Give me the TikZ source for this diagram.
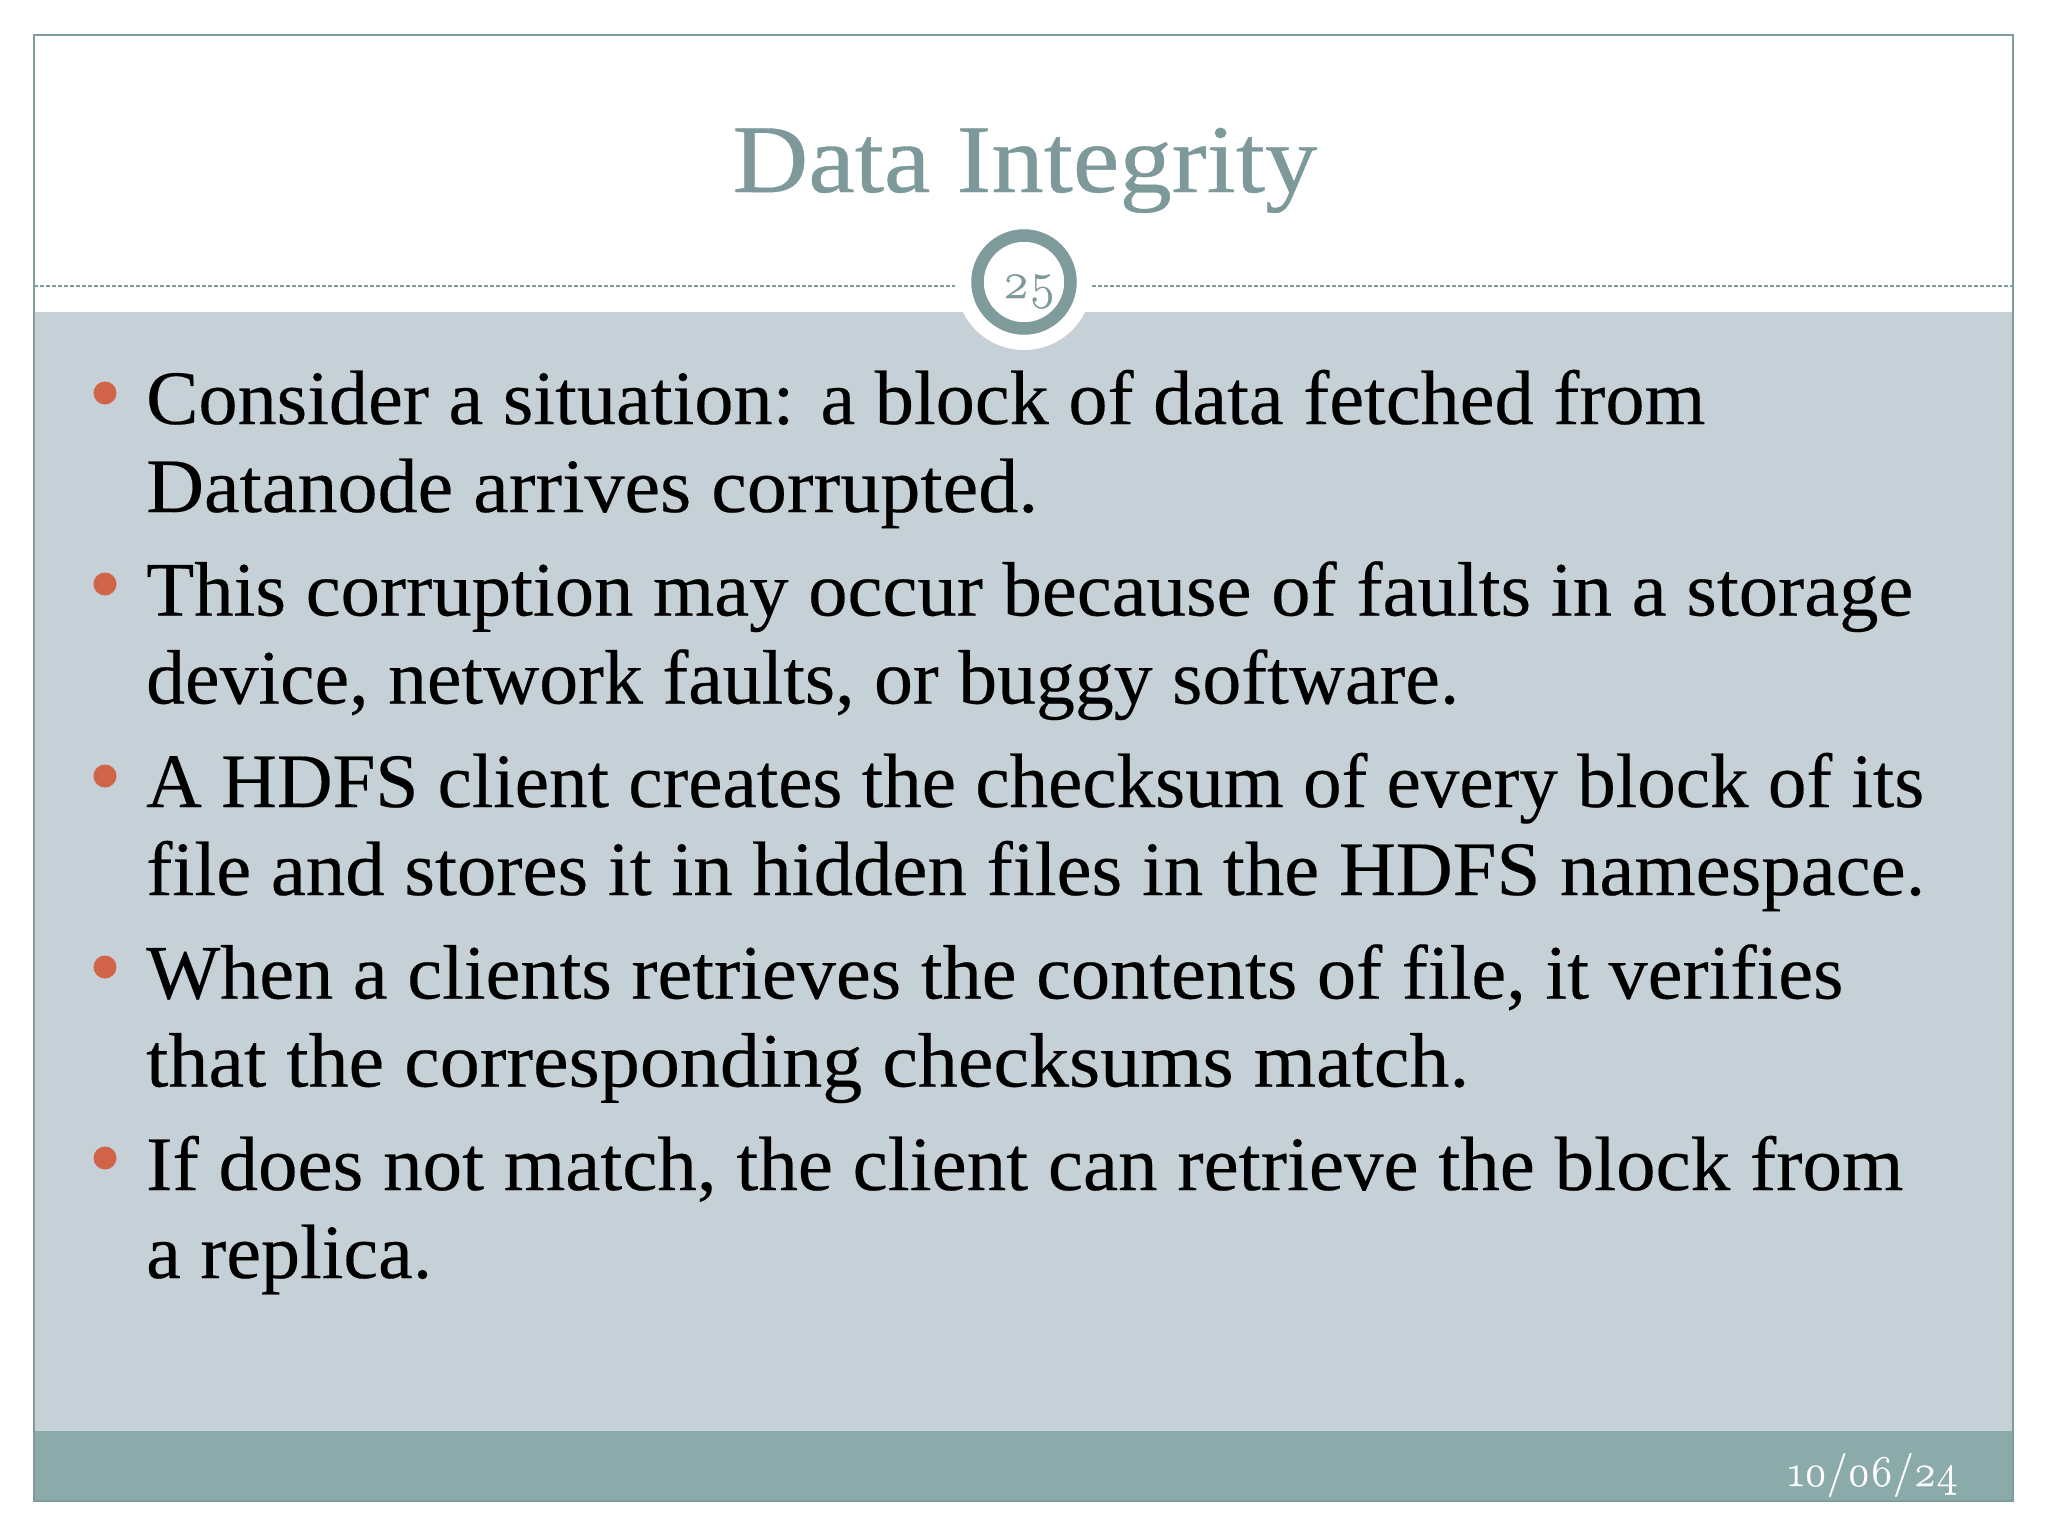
\documentclass[tikz,border=0pt]{standalone}
\usepackage{fontspec}
\setmainfont{Liberation Serif}[FakeStretch=1.015,FakeBold=0.25]
\newfontfamily\titlefont{Liberation Serif}[FakeStretch=1.08,FakeBold=0.4]
\newfontfamily\numfont{Latin Modern Roman}[Numbers=OldStyle,FakeBold=0.7]
\usetikzlibrary{positioning}
\definecolor{framecol}{RGB}{127,155,155}
\definecolor{titlecol}{RGB}{126,153,153}
\definecolor{bodycol}{RGB}{197,209,215}
\definecolor{footcol}{RGB}{139,170,170}
\definecolor{bulletcol}{RGB}{209,99,73}
\newcommand{\fitline}[2]{\resizebox{#1pt}{\height}{#2}}
\tikzset{
  itemtext/.style={anchor=base west, align=left, inner sep=0pt, text=black,
    font=\fontsize{77}{88}\selectfont},
  bulletdot/.style={circle, fill=bulletcol, inner sep=0pt, minimum size=23pt},
}
\begin{document}
\begin{tikzpicture}[x=1pt,y=-1pt]
\useasboundingbox (0,0) rectangle (2048,1536);
\fill[white] (0,0) rectangle (2048,1536);
\fill[bodycol] (34,312) rectangle (2013,1431);
\fill[footcol] (34,1431) rectangle (2013,1501);
\fill[white] (1024,282) circle (68);
\draw[framecol, line width=1.5pt] (34,35) rectangle (2013,1501);
\draw[framecol, line width=1.2pt, dash pattern=on 4pt off 2pt] (34,286) -- (955,286);
\draw[framecol, line width=1.2pt, dash pattern=on 4pt off 2pt] (1092,286) -- (2013,286);
\node (badge) [circle, draw=framecol, line width=12.5pt, inner sep=0pt, minimum size=93pt] at (1024,282) {};
\node (pageno) [anchor=base, inner sep=0pt, text=titlecol, font=\numfont\fontsize{51}{51}\selectfont] at (1029,298) {25};
\node (title) [anchor=base, inner sep=0pt, text=titlecol, font=\titlefont\fontsize{97}{97}\selectfont] at (1025,192) {Data Integrity};
% base of a two line node is its last line
\node (item1) [itemtext] at (146,512) {\fitline{1559}{Consider a situation: a block of data fetched from}\\\fitline{892}{Datanode arrives corrupted.}};
\node (item2) [itemtext] at (146,703.5) {\fitline{1767}{This corruption may occur because of faults in a storage}\\\fitline{1313}{device, network faults, or buggy software.}};
\node (item3) [itemtext] at (146,895) {\fitline{1778}{A HDFS client creates the checksum of every block of its}\\\fitline{1779}{file and stores it in hidden files in the HDFS namespace.}};
\node (item4) [itemtext] at (146,1086.5) {\fitline{1697}{When a clients retrieves the contents of file, it verifies}\\\fitline{1323}{that the corresponding checksums match.}};
\node (item5) [itemtext] at (146,1278) {\fitline{1757}{If does not match, the client can retrieve the block from}\\\fitline{286}{a replica.}};
\foreach \i/\y in {1/393,2/584,3/776,4/967,5/1158}
  \node (dot\i) [bulletdot] at (105,\y) {};
\node (datelabel) [anchor=base east, inner sep=0pt, text=white, font=\numfont\fontsize{44}{44}\selectfont] at (1958,1486) {10/06/24};
\end{tikzpicture}
\end{document}
